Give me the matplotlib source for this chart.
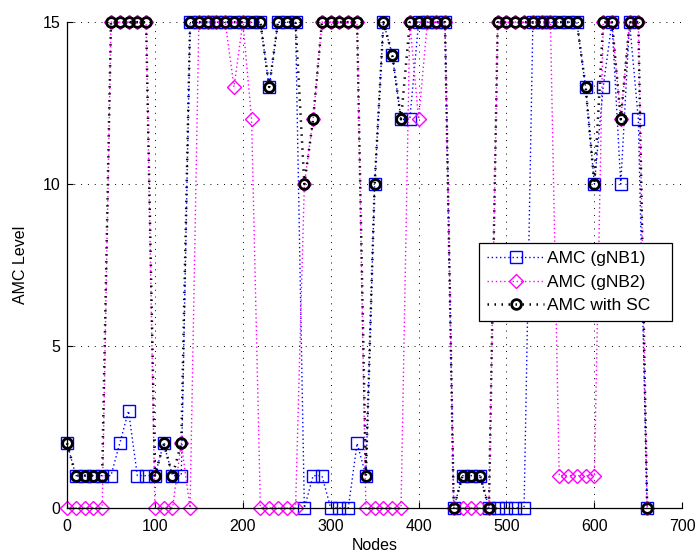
import numpy as np
import matplotlib
matplotlib.use('Agg')
import matplotlib.pyplot as plt

plt.rcParams['font.family'] = ['Liberation Sans', 'DejaVu Sans']

# node positions
nodes = list(range(0, 670, 10))

amc_gnb1 = [2, 1, 1, 1, 1, 1, 2, 3, 1, 1,
            1, 2, 1, 1, 15, 15, 15, 15, 15, 15,
            15, 15, 15, 13, 15, 15, 15, 0, 1, 1,
            0, 0, 0, 2, 1, 10, 15, 14, 12, 12,
            15, 15, 15, 15, 0, 1, 1, 1, 0, 0,
            0, 0, 0, 15, 15, 15, 15, 15, 15, 13,
            10, 13, 15, 10, 15, 12, 0]

amc_gnb2 = [0, 0, 0, 0, 0, 15, 15, 15, 15, 15,
            0, 0, 0, 2, 0, 15, 15, 15, 15, 13,
            15, 12, 0, 0, 0, 0, 0, 10, 12, 15,
            15, 15, 15, 15, 0, 0, 0, 0, 0, 15,
            12, 15, 15, 15, 0, 0, 0, 0, 0, 15,
            15, 15, 15, 15, 15, 15, 1, 1, 1, 1,
            1, 15, 15, 12, 15, 15, 0]

amc_sc = [2, 1, 1, 1, 1, 15, 15, 15, 15, 15,
          1, 2, 1, 2, 15, 15, 15, 15, 15, 15,
          15, 15, 15, 13, 15, 15, 15, 10, 12, 15,
          15, 15, 15, 15, 1, 10, 15, 14, 12, 15,
          15, 15, 15, 15, 0, 1, 1, 1, 0, 15,
          15, 15, 15, 15, 15, 15, 15, 15, 15, 13,
          10, 15, 15, 12, 15, 15, 0]

fig = plt.figure(figsize=(6.96, 5.54), dpi=100)
ax = fig.add_axes([0.0963, 0.083, 0.884, 0.877])

ax.plot(nodes, amc_gnb1, linestyle=(0, (1, 2)), color='blue', linewidth=1,
        marker='s', markersize=8, markerfacecolor='none',
        markeredgecolor='blue', markeredgewidth=1, clip_on=False,
        label='AMC (gNB1)')
ax.plot(nodes, amc_gnb2, linestyle=(0, (1, 2)), color='magenta', linewidth=1,
        marker='D', markersize=7, markerfacecolor='none',
        markeredgecolor='magenta', markeredgewidth=1, clip_on=False,
        label='AMC (gNB2)')
ax.plot(nodes, amc_sc, linestyle=(0, (0.6, 2.2)), color='black', linewidth=1.8,
        marker='o', markersize=7, markerfacecolor='none',
        markeredgecolor='black', markeredgewidth=2, clip_on=False,
        label='AMC with SC')

ax.set_xlim(0, 700)
ax.set_ylim(0, 15)
ax.set_xticks(range(0, 701, 100))
ax.set_yticks([0, 5, 10, 15])
ax.tick_params(direction='in', labelsize=11.5, length=4, width=0.8,
               colors='black')
ax.tick_params(axis='x', pad=8)
ax.tick_params(axis='y', pad=5)
ax.spines['top'].set_visible(False)
ax.spines['right'].set_visible(False)
ax.spines['left'].set_linewidth(0.9)
ax.spines['bottom'].set_linewidth(0.9)
ax.grid(True, linestyle=(0, (1, 6)), color='black', linewidth=0.7)
ax.set_axisbelow(True)

ax.set_xlabel('Nodes', fontsize=11.5, labelpad=3)
ax.set_ylabel('AMC Level', fontsize=11.5, labelpad=10)

leg = ax.legend(loc='upper left', bbox_to_anchor=(0.67, 0.365, 0.314, 0.18),
                mode='expand', fontsize=12.5, fancybox=False,
                framealpha=1, edgecolor='black', borderaxespad=0,
                borderpad=0.45, handlelength=3.3, handletextpad=0.17,
                labelspacing=0.48)
leg.get_frame().set_linewidth(0.9)

fig.savefig('out.png', dpi=100)
